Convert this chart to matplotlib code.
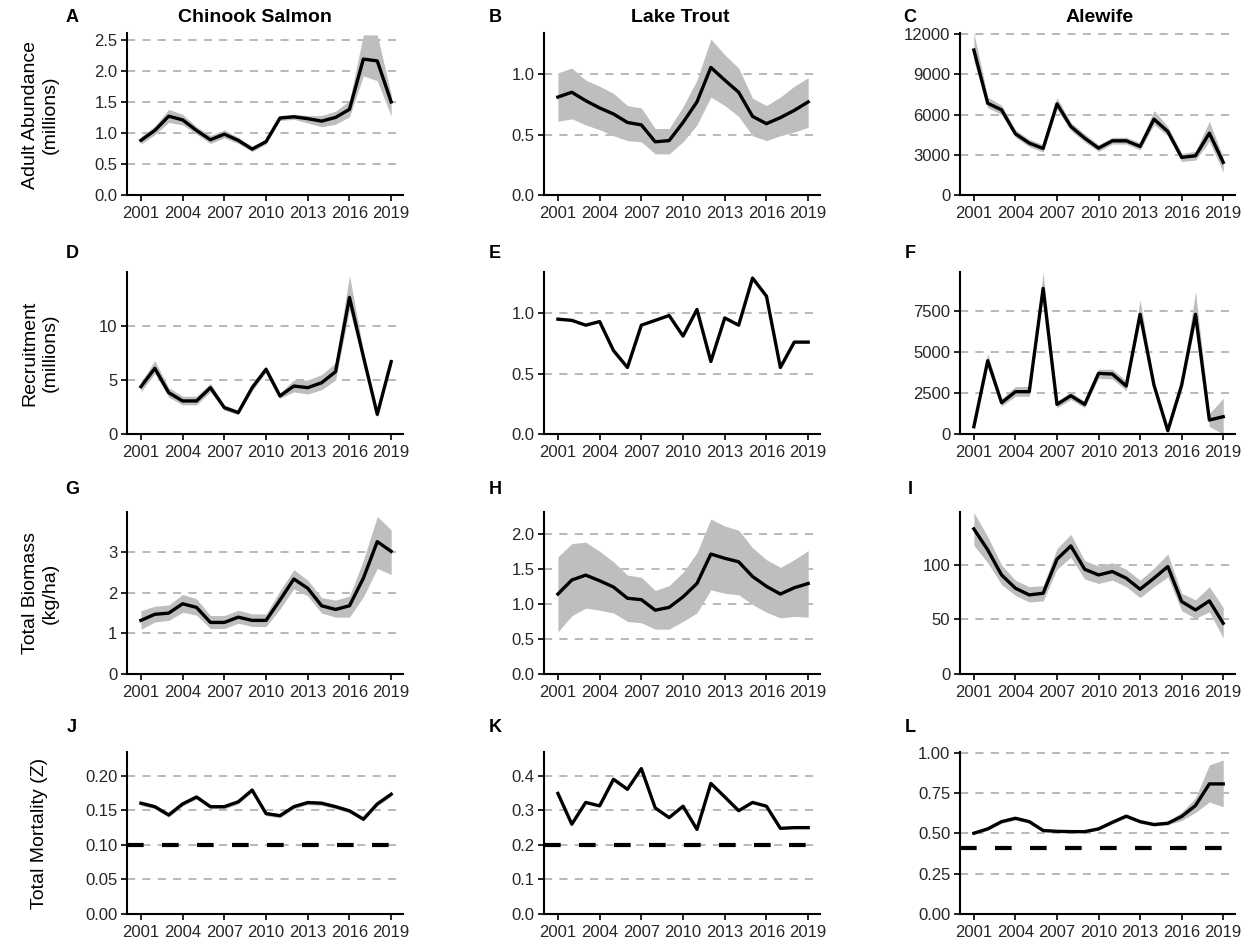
import numpy as np
import matplotlib
matplotlib.use("Agg")
import matplotlib.pyplot as plt

plt.rcParams['font.family'] = ['Liberation Sans', 'DejaVu Sans']

years = np.arange(2001, 2020)

# Chinook Salmon
chinook_adult = [0.88, 1.04, 1.27, 1.21, 1.04, 0.89, 0.98, 0.88, 0.74, 0.86, 1.24, 1.26, 1.23, 1.19, 1.25, 1.38, 2.19, 2.16, 1.50]
chinook_adult_lo = [0.82, 0.97, 1.17, 1.13, 0.98, 0.83, 0.92, 0.83, 0.70, 0.82, 1.20, 1.22, 1.16, 1.10, 1.14, 1.26, 1.92, 1.84, 1.27]
chinook_adult_hi = [0.94, 1.11, 1.38, 1.30, 1.10, 0.96, 1.05, 0.93, 0.78, 0.90, 1.28, 1.30, 1.28, 1.28, 1.35, 1.52, 2.58, 2.58, 1.62]

chinook_rec = [4.38, 6.08, 3.83, 3.06, 3.06, 4.29, 2.44, 1.98, 4.29, 5.99, 3.52, 4.44, 4.29, 4.75, 5.77, 12.65, 7.16, 1.82, 6.70]
chinook_rec_lo = [3.9, 5.6, 3.4, 2.7, 2.7, 3.9, 2.2, 1.8, 4.0, 5.7, 3.3, 3.9, 3.7, 4.1, 5.0, 11.5, 6.6, 1.5, 6.4]
chinook_rec_hi = [4.8, 6.8, 4.3, 3.5, 3.5, 4.7, 2.7, 2.2, 4.6, 6.3, 3.8, 5.0, 5.0, 5.5, 6.6, 14.7, 7.7, 2.2, 7.0]

chinook_bio = [1.32, 1.47, 1.50, 1.73, 1.64, 1.27, 1.27, 1.40, 1.32, 1.32, 1.82, 2.34, 2.11, 1.68, 1.59, 1.68, 2.36, 3.26, 3.02]
chinook_bio_lo = [1.10, 1.28, 1.32, 1.52, 1.45, 1.12, 1.12, 1.25, 1.17, 1.17, 1.60, 2.10, 1.92, 1.50, 1.40, 1.40, 1.90, 2.60, 2.45]
chinook_bio_hi = [1.56, 1.67, 1.70, 1.96, 1.85, 1.44, 1.44, 1.57, 1.48, 1.48, 2.05, 2.57, 2.31, 1.88, 1.82, 1.92, 2.80, 3.88, 3.55]

chinook_z = [0.160, 0.155, 0.143, 0.159, 0.169, 0.155, 0.155, 0.162, 0.179, 0.145, 0.142, 0.155, 0.161, 0.160, 0.155, 0.149, 0.137, 0.159, 0.173]
chinook_z_lo = [z - 0.003 for z in chinook_z]
chinook_z_hi = [z + 0.003 for z in chinook_z]
chinook_z_ref = 0.10

# Lake Trout
trout_adult = [0.81, 0.85, 0.78, 0.72, 0.67, 0.60, 0.58, 0.44, 0.45, 0.60, 0.77, 1.055, 0.95, 0.85, 0.65, 0.59, 0.64, 0.70, 0.77]
trout_adult_lo = [0.61, 0.63, 0.58, 0.54, 0.49, 0.45, 0.44, 0.34, 0.34, 0.44, 0.58, 0.81, 0.74, 0.65, 0.49, 0.45, 0.49, 0.52, 0.56]
trout_adult_hi = [1.01, 1.05, 0.95, 0.90, 0.84, 0.74, 0.72, 0.55, 0.55, 0.73, 0.95, 1.29, 1.16, 1.05, 0.80, 0.74, 0.81, 0.90, 0.97]

trout_rec = [0.95, 0.94, 0.90, 0.93, 0.69, 0.55, 0.90, 0.94, 0.98, 0.81, 1.03, 0.60, 0.96, 0.90, 1.29, 1.14, 0.55, 0.76, 0.76]

trout_bio = [1.14, 1.34, 1.41, 1.33, 1.24, 1.08, 1.06, 0.91, 0.95, 1.10, 1.29, 1.71, 1.65, 1.60, 1.39, 1.25, 1.14, 1.23, 1.29]
trout_bio_lo = [0.60, 0.83, 0.94, 0.91, 0.87, 0.75, 0.73, 0.64, 0.64, 0.75, 0.87, 1.20, 1.15, 1.13, 0.99, 0.88, 0.80, 0.82, 0.81]
trout_bio_hi = [1.67, 1.86, 1.88, 1.75, 1.60, 1.41, 1.38, 1.19, 1.26, 1.45, 1.73, 2.21, 2.11, 2.05, 1.80, 1.63, 1.52, 1.63, 1.76]

trout_z = [0.349, 0.260, 0.323, 0.313, 0.390, 0.361, 0.421, 0.307, 0.279, 0.312, 0.245, 0.378, 0.339, 0.299, 0.323, 0.312, 0.248, 0.250, 0.250]
trout_z_ref = 0.20

# Alewife
alewife_adult = [10810, 6843, 6347, 4562, 3868, 3471, 6793, 5108, 4240, 3496, 4041, 4041, 3620, 5653, 4736, 2802, 2927, 4612, 2430]
alewife_adult_lo = [10000, 6500, 6000, 4300, 3600, 3200, 6400, 4800, 3950, 3250, 3800, 3800, 3350, 5250, 4400, 2500, 2600, 4000, 1700]
alewife_adult_hi = [12100, 7300, 6700, 4850, 4150, 3750, 7250, 5400, 4550, 3750, 4300, 4300, 3900, 6300, 5100, 3100, 3250, 5500, 2800]

alewife_rec = [445, 4471, 1909, 2580, 2580, 8882, 1807, 2336, 1807, 3698, 3657, 2926, 7297, 2987, 201, 2987, 7297, 852, 1055]
alewife_rec_lo = [300, 4200, 1700, 2300, 2300, 8500, 1600, 2100, 1600, 3400, 3350, 2650, 6900, 2750, 50, 2750, 6800, 450, 0]
alewife_rec_hi = [600, 4900, 2150, 2900, 2900, 9838, 2000, 2550, 2000, 3950, 3950, 3250, 8170, 3200, 350, 3250, 8680, 1250, 2173]

alewife_bio = [133.0, 113.8, 90.8, 78.6, 72.5, 74.0, 105.2, 117.4, 96.0, 90.8, 93.9, 87.8, 77.7, 87.8, 98.5, 66.4, 58.7, 67.0, 46.5]
alewife_bio_lo = [118, 102, 82, 72, 66, 67, 96, 107, 87, 83, 86, 80, 70, 80, 89, 58, 51, 57, 33]
alewife_bio_hi = [148, 126, 100, 86, 80, 81, 115, 128, 104, 99, 102, 96, 86, 97, 110, 74, 68, 80, 61]

alewife_z = [0.501, 0.528, 0.573, 0.594, 0.573, 0.518, 0.513, 0.511, 0.511, 0.528, 0.569, 0.607, 0.573, 0.555, 0.563, 0.605, 0.673, 0.807, 0.807]
alewife_z_lo = [0.495, 0.520, 0.563, 0.583, 0.563, 0.511, 0.507, 0.505, 0.505, 0.520, 0.560, 0.596, 0.563, 0.545, 0.553, 0.580, 0.630, 0.695, 0.665]
alewife_z_hi = [0.508, 0.536, 0.583, 0.605, 0.583, 0.525, 0.519, 0.517, 0.517, 0.536, 0.578, 0.618, 0.583, 0.565, 0.575, 0.632, 0.720, 0.925, 0.955]
alewife_z_ref = 0.41

species = ["Chinook Salmon", "Lake Trout", "Alewife"]
row_labels = ["Adult Abundance\n(millions)", "Recruitment\n(millions)", "Total Biomass\n(kg/ha)", "Total Mortality (Z)"]
letters = list("ABCDEFGHIJKL")
xticks = [2001, 2004, 2007, 2010, 2013, 2016, 2019]

# (line, lo, hi, yticks, tick labels, ytop, ref)
panels = [
    [(chinook_adult, chinook_adult_lo, chinook_adult_hi, [0, 0.5, 1, 1.5, 2, 2.5], ["0.0", "0.5", "1.0", "1.5", "2.0", "2.5"], 2.61, None),
     (trout_adult, trout_adult_lo, trout_adult_hi, [0, 0.5, 1.0], ["0.0", "0.5", "1.0"], 1.34, None),
     (alewife_adult, alewife_adult_lo, alewife_adult_hi, [0, 3000, 6000, 9000, 12000], ["0", "3000", "6000", "9000", "12000"], 12080, None)],
    [(chinook_rec, chinook_rec_lo, chinook_rec_hi, [0, 5, 10], ["0", "5", "10"], 15.0, None),
     (trout_rec, None, None, [0, 0.5, 1.0], ["0.0", "0.5", "1.0"], 1.34, None),
     (alewife_rec, alewife_rec_lo, alewife_rec_hi, [0, 2500, 5000, 7500], ["0", "2500", "5000", "7500"], 9880, None)],
    [(chinook_bio, chinook_bio_lo, chinook_bio_hi, [0, 1, 2, 3], ["0", "1", "2", "3"], 3.99, None),
     (trout_bio, trout_bio_lo, trout_bio_hi, [0, 0.5, 1, 1.5, 2], ["0.0", "0.5", "1.0", "1.5", "2.0"], 2.31, None),
     (alewife_bio, alewife_bio_lo, alewife_bio_hi, [0, 50, 100], ["0", "50", "100"], 148.5, None)],
    [(chinook_z, chinook_z_lo, chinook_z_hi, [0, 0.05, 0.1, 0.15, 0.2], ["0.00", "0.05", "0.10", "0.15", "0.20"], 0.234, chinook_z_ref),
     (trout_z, None, None, [0, 0.1, 0.2, 0.3, 0.4], ["0.0", "0.1", "0.2", "0.3", "0.4"], 0.469, trout_z_ref),
     (alewife_z, alewife_z_lo, alewife_z_hi, [0, 0.25, 0.5, 0.75, 1.0], ["0.00", "0.25", "0.50", "0.75", "1.00"], 1.005, alewife_z_ref)],
]

W, H = 1252, 944
fig = plt.figure(figsize=(W / 100, H / 100), dpi=100)

col_lr = [(127, 403), (544, 820), (960, 1235)]
row_tb = [(33, 195), (272, 434), (512, 674), (752, 914)]
letter_x = [72, 495, 910]
letter_y = [17, 253, 490, 727]
title_x = [255, 680, 1100]
ylab_y = [115, 353, 593, 833]

for r in range(4):
    for c in range(3):
        line, lo, hi, yt, ytl, ytop, ref = panels[r][c]
        l, rr = col_lr[c]
        t, b = row_tb[r]
        ax = fig.add_axes([l / W, 1 - b / H, (rr - l) / W, (b - t) / H])
        for y in yt:
            ax.axhline(y, color="#b3b3b3", lw=1.3, dashes=(4.5, 4), zorder=0)
        if lo is not None:
            ax.fill_between(years, lo, hi, color="#bebebe", lw=0, zorder=1)
        ax.plot(years, line, color="black", lw=2.4, zorder=3, solid_joinstyle="round")
        if ref is not None:
            ax.axhline(ref, color="black", lw=3, dashes=(4, 4.4), zorder=4)
        ax.set_xlim(2000.0, 2019.85)
        ax.set_ylim(0, ytop)
        ax.set_xticks(xticks)
        ax.set_xticklabels([str(x) for x in xticks])
        ax.set_yticks(yt)
        ax.set_yticklabels(ytl)
        ax.tick_params(labelsize=12, length=4, width=1.2, colors="black",
                       labelcolor="#262626", pad=3)
        ax.tick_params(axis="x", pad=4)
        for s in ["top", "right"]:
            ax.spines[s].set_visible(False)
        for s in ["left", "bottom"]:
            ax.spines[s].set_linewidth(1.5)
        fig.text(letter_x[c] / W, 1 - letter_y[r] / H, letters[r * 3 + c],
                 fontsize=13, fontweight="bold", ha="center", va="center")

for c in range(3):
    fig.text(title_x[c] / W, 1 - 17 / H, species[c], fontsize=14,
             fontweight="bold", ha="center", va="center")

for r in range(4):
    fig.text(40 / W, 1 - ylab_y[r] / H, row_labels[r], fontsize=14,
             rotation=90, ha="center", va="center", multialignment="center")

fig.savefig("out.png", dpi=100)
